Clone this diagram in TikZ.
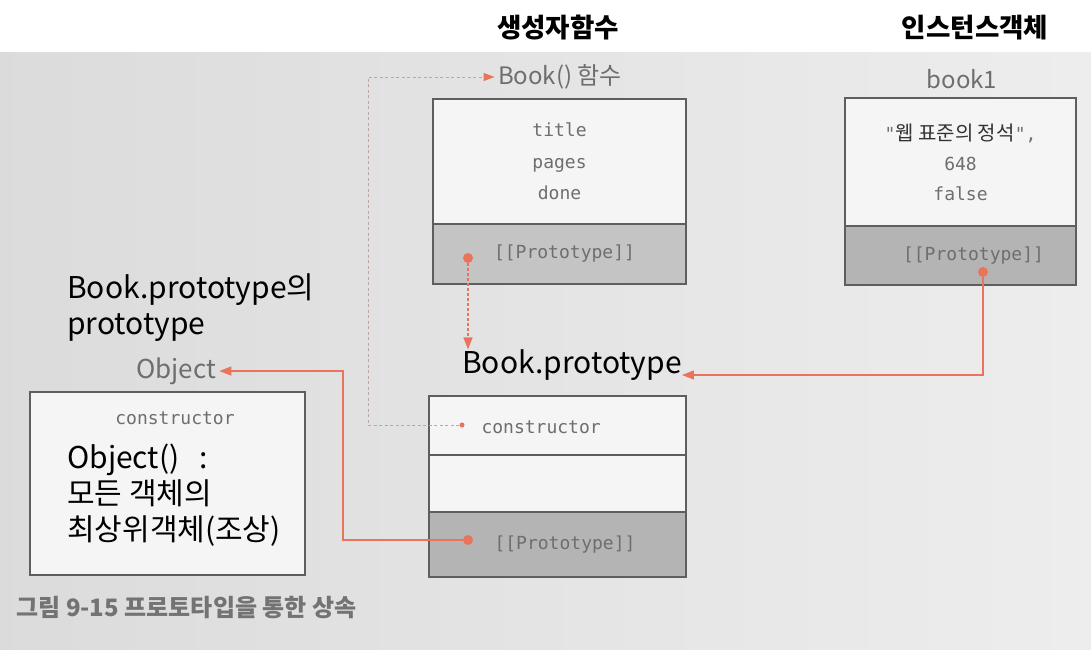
\documentclass[tikz,border=0pt]{standalone}
\usepackage{fontspec}
\setmainfont{Noto Sans CJK KR}
\newfontfamily\monofont{DejaVu Sans Mono}
\usetikzlibrary{arrows.meta, positioning}
\definecolor{linkred}{HTML}{E8745C}
\definecolor{boxline}{HTML}{5E5E5E}
\definecolor{protofill}{HTML}{C4C4C4}
\definecolor{protodark}{HTML}{B4B4B4}
\definecolor{cellfill}{HTML}{F5F5F5}
\definecolor{labelgray}{HTML}{6E6E6E}
\definecolor{backline}{HTML}{B9A9A2}

\begin{document}
\begin{tikzpicture}[x=1pt, y=-1pt, >=Stealth]
    \tikzset{
        cell/.style={draw=boxline, line width=1.2pt, fill=cellfill, inner sep=0pt},
        protocell/.style={cell, fill=protodark},
        mono/.style={font=\monofont\fontsize{18}{31.5}\selectfont, text=labelgray},
        graylabel/.style={font=\fontsize{24}{28}\selectfont, text=labelgray},
        note/.style={font=\fontsize{30}{36}\selectfont, text=black, inner sep=0pt},
        head/.style={font=\bfseries\fontsize{26.5}{30}\selectfont, text=black},
        dot/.style={circle, fill=linkred, inner sep=0pt, minimum size=10pt},
        link/.style={draw=linkred, line width=1.4pt, -{Triangle[length=12pt, width=9pt]}},
        backlink/.style={draw=backline, line width=1pt, dash pattern=on 3pt off 2.5pt,
            -{Triangle[length=11pt, width=8pt, color=linkred]}},
    }
    \useasboundingbox (0,0) rectangle (1091,649);
    \fill[white] (0,0) rectangle (1091,649);
    \shade[left color=black!14, right color=black!7] (0,52) rectangle (1091,649);

    \node[head] (ctorHead) at (558,28) {생성자함수};
    \node[head] (instHead) at (975,28) {인스턴스객체};

    % Book() function
    \node[cell, minimum width=253pt, minimum height=125pt, mono, align=center] (fnBody) at (559.5,161.5) {title\\pages\\done};
    \node[cell, fill=protofill, minimum width=253pt, minimum height=60pt, mono] (fnProto) at (559.5,254) {\hspace{10pt}[[Prototype]]};
    \node[graylabel] (fnLabel) at (560,77) {Book() 함수};

    % book1 instance
    \node[cell, minimum width=231pt, minimum height=128pt, mono, align=center, font=\monofont\fontsize{18}{30}\selectfont] (b1Body) at (960.5,162)
        {"{\normalfont\fontsize{20}{30}\selectfont\color{black!80}웹 표준의 정석}",\\648\\false};
    \node[protocell, minimum width=231pt, minimum height=59pt, mono] (b1Proto) at (960.5,255.5) {\hspace{26pt}[[Prototype]]};
    \node[graylabel] (b1Label) at (962,79) {book1};

    % Book.prototype
    \node[note] (bpLabel) at (572,365) {Book.prototype};
    \node[cell, minimum width=257pt, minimum height=59pt] (bpCtor) at (557.5,425.5) {};
    \node[cell, minimum width=257pt, minimum height=57pt] (bpEmpty) at (557.5,483.5) {};
    \node[protocell, minimum width=257pt, minimum height=65pt, mono] (bpProto) at (557.5,544.5) {\hspace{15pt}[[Prototype]]};
    \node[mono, anchor=west] (bpCtorText) at (478,427) {constructor};

    % Object
    \node[note, anchor=north west, align=left] (bpNote) at (67,273) {Book.prototype의\\prototype};
    \node[graylabel, font=\fontsize{26}{30}\selectfont] (objLabel) at (176,371) {Object};
    \node[cell, minimum width=275pt, minimum height=183pt] (objBox) at (167.5,483.5) {};
    \node[mono] (objCtorText) at (175,418) {constructor};
    \node[note, anchor=north west, align=left] (objNote) at (67,444) {Object()\hspace{20pt}:\\모든 객체의\\최상위객체(조상)};

    \node[anchor=west, font=\bfseries\fontsize{24}{28}\selectfont, text=black!55] (caption) at (13,607) {그림 9-15 프로토타입을 통한 상속};

    \node[dot] (fnDot) at (468,258) {};
    \node[dot] (b1Dot) at (983,272) {};
    \node[dot] (bpDot) at (468,540) {};
    \node[dot, minimum size=5pt] (ctorDot) at (462,425) {};
    \coordinate (ctorLow) at (368,425);
    \coordinate (ctorHigh) at (368,77);
    \coordinate (objBend) at (343,540);

    \draw[link, dash pattern=on 3pt off 2pt] (fnDot) -- (fnDot |- bpLabel.north);
    \draw[link] (b1Dot) |- ([yshift=-10pt]bpLabel.east);
    \draw[link] (bpDot) -- (objBend) |- (objLabel.east);
    \draw[backlink] (ctorDot) -- (ctorLow) -- (ctorHigh) -- (fnLabel.west);
\end{tikzpicture}
\end{document}
